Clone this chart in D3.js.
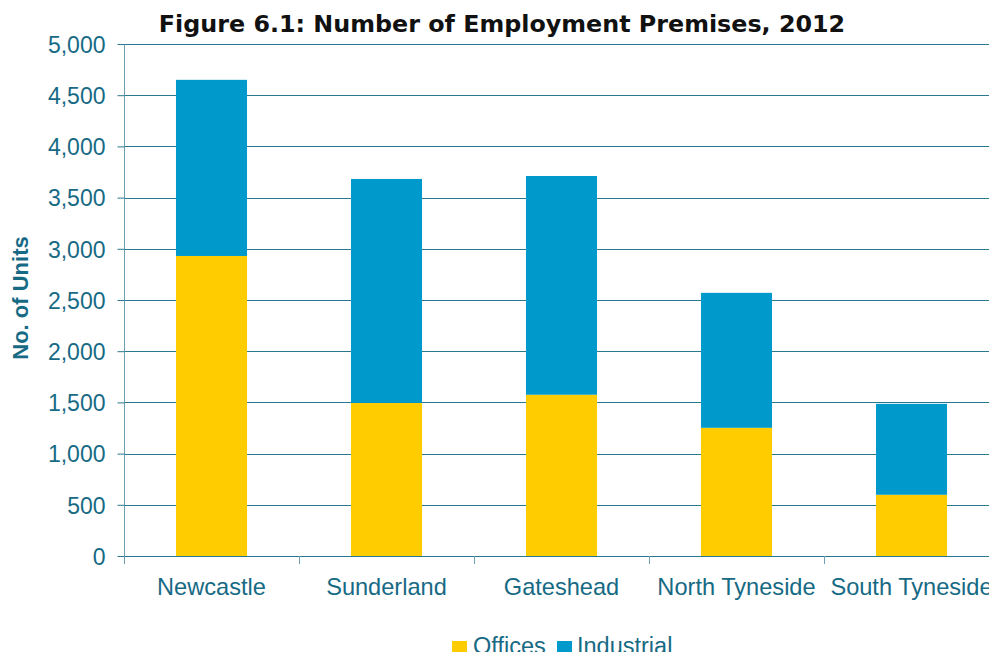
<!DOCTYPE html>
<html>
<head>
<meta charset="utf-8">
<script src="https://cdn.jsdelivr.net/npm/d3@7"></script>
<style>
  html, body { margin: 0; padding: 0; background: #ffffff; overflow: hidden; }
  svg { display: block; }
</style>
</head>
<body>
<svg id="chart" width="989" height="652"></svg>
<script>
// Employment premises by local authority, 2012
const areas = ["Newcastle", "Sunderland", "Gateshead", "North Tyneside", "South Tyneside"];
const offices = [2930, 1495, 1575, 1252, 598];
const industrial = [1720, 2187, 2136, 1318, 888];
const seriesNames = ["Offices", "Industrial"];
const seriesColors = ["#ffcc00", "#0099cc"];
const yTicks = [0, 500, 1000, 1500, 2000, 2500, 3000, 3500, 4000, 4500, 5000];

const textColor = "#176a84";
const gridColor = "#2a7890";
const axisColor = "#6f9fb3";
const sans = "Liberation Sans, Arial, sans-serif";

const svg = d3.select("#chart");
const margin = { left: 124, top: 44, right: 999, bottom: 556 };

const rows = areas.map((a, i) => ({ area: a, Offices: offices[i], Industrial: industrial[i] }));
const stacked = d3.stack().keys(seriesNames)(rows);

const x = d3.scaleBand()
  .domain(areas)
  .range([margin.left, margin.right])
  .paddingInner(0.594)
  .paddingOuter(0.297);

const y = d3.scaleLinear()
  .domain([0, 5000])
  .range([margin.bottom, margin.top]);

// Title
svg.append("text")
  .attr("x", 502)
  .attr("y", 32)
  .attr("text-anchor", "middle")
  .attr("font-family", "DejaVu Sans, Verdana, sans-serif")
  .attr("font-weight", "bold")
  .attr("font-size", 23.8)
  .attr("fill", "#111111")
  .text("Figure 6.1: Number of Employment Premises, 2012");

// Horizontal gridlines
svg.append("g")
  .selectAll("line")
  .data(yTicks.filter(t => t > 0))
  .join("line")
  .attr("x1", margin.left)
  .attr("x2", 989)
  .attr("y1", d => Math.round(y(d)) + 0.5)
  .attr("y2", d => Math.round(y(d)) + 0.5)
  .attr("stroke", gridColor)
  .attr("stroke-width", 1);

// Stacked bars
svg.append("g")
  .selectAll("g")
  .data(stacked)
  .join("g")
  .attr("fill", (d, i) => seriesColors[i])
  .selectAll("rect")
  .data(d => d)
  .join("rect")
  .attr("x", d => x(d.data.area))
  .attr("width", x.bandwidth())
  .attr("y", d => y(d[1]))
  .attr("height", d => y(d[0]) - y(d[1]));

// Y axis
const yAxis = svg.append("g")
  .attr("transform", `translate(${margin.left + 0.5},0)`)
  .call(d3.axisLeft(y)
    .tickValues(yTicks)
    .tickSize(7)
    .tickPadding(12)
    .tickFormat(d3.format(",")));
yAxis.select(".domain").attr("stroke", axisColor).attr("d", `M0,${margin.top}V${margin.bottom}`);
yAxis.selectAll(".tick line").attr("stroke", gridColor);
yAxis.selectAll(".tick text")
  .attr("fill", textColor)
  .attr("font-family", sans)
  .attr("font-size", 23)
  .attr("dy", "0.36em");

// X axis baseline with boundary ticks between categories
const xAxis = svg.append("g");
xAxis.append("line")
  .attr("x1", margin.left)
  .attr("x2", 989)
  .attr("y1", margin.bottom + 0.5)
  .attr("y2", margin.bottom + 0.5)
  .attr("stroke", gridColor);
const bounds = areas.map((a, i) => margin.left + i * x.step());
xAxis.selectAll("line.bound")
  .data(bounds)
  .join("line")
  .attr("class", "bound")
  .attr("x1", d => Math.round(d) + 0.5)
  .attr("x2", d => Math.round(d) + 0.5)
  .attr("y1", margin.bottom)
  .attr("y2", margin.bottom + 8)
  .attr("stroke", axisColor);
xAxis.selectAll("text")
  .data(areas)
  .join("text")
  .attr("x", d => x(d) + x.bandwidth() / 2)
  .attr("y", 595)
  .attr("text-anchor", "middle")
  .attr("fill", textColor)
  .attr("font-family", sans)
  .attr("font-size", 23.6)
  .text(d => d);

// Y axis title
svg.append("text")
  .attr("transform", "translate(28,298) rotate(-90)")
  .attr("text-anchor", "middle")
  .attr("fill", textColor)
  .attr("font-family", sans)
  .attr("font-weight", "bold")
  .attr("font-size", 22)
  .text("No. of Units");

// Legend
const legendItems = [
  { name: seriesNames[0], color: seriesColors[0], sx: 452, tx: 473 },
  { name: seriesNames[1], color: seriesColors[1], sx: 557, tx: 577 }
];
const legend = svg.append("g");
legend.selectAll("rect")
  .data(legendItems)
  .join("rect")
  .attr("x", d => d.sx)
  .attr("y", 641)
  .attr("width", 15)
  .attr("height", 15)
  .attr("fill", d => d.color);
legend.selectAll("text")
  .data(legendItems)
  .join("text")
  .attr("x", d => d.tx)
  .attr("y", 654)
  .attr("fill", textColor)
  .attr("font-family", sans)
  .attr("font-size", 23.5)
  .text(d => d.name);
</script>
</body>
</html>
